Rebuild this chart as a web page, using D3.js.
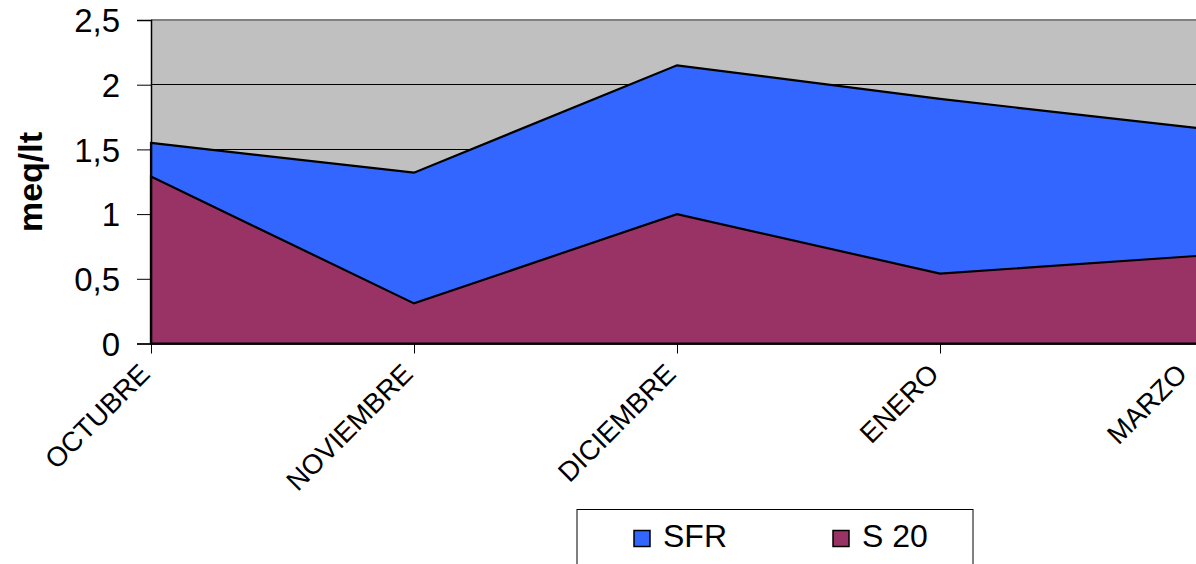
<!DOCTYPE html>
<html>
<head>
<meta charset="utf-8">
<script src="https://cdn.jsdelivr.net/npm/d3@7"></script>
<style>
  html, body { margin: 0; padding: 0; background: #ffffff; overflow: hidden; }
  svg { display: block; font-family: "Liberation Sans", Arial, sans-serif; }
</style>
</head>
<body>
<svg id="chart" width="1196" height="564"></svg>
<script>
// Monthly values (meq/lt)
const categories = ["OCTUBRE", "NOVIEMBRE", "DICIEMBRE", "ENERO", "MARZO"];
const sfrValues  = [1.55, 1.32, 2.15, 1.89, 1.66];
const s20Values  = [1.29, 0.31, 1.00, 0.54, 0.68];
const seriesNames = ["SFR", "S 20"];
const seriesColors = ["#3366FF", "#993366"];
const yTicks = [0, 0.5, 1, 1.5, 2, 2.5];
const yTickLabels = ["0", "0,5", "1", "1,5", "2", "2,5"];
const yTitle = "meq/lt";

const width = 1196;
const svg = d3.select("#chart");

// Plot frame
const plotLeft = 151, plotTop = 20, plotBottom = 343.5, plotRight = 1203;

const x = d3.scalePoint().domain(categories).range([plotLeft, plotRight]);
const y = d3.scaleLinear().domain([0, 2.5]).range([plotBottom, plotTop]);

// Plot background
svg.append("rect")
  .attr("x", plotLeft).attr("y", plotTop)
  .attr("width", plotRight - plotLeft).attr("height", plotBottom - plotTop)
  .attr("fill", "#C0C0C0");

// Horizontal gridlines
svg.append("g").selectAll("line")
  .data(yTicks.filter(t => t > 0 && t < 2.5))
  .join("line")
  .attr("x1", plotLeft).attr("x2", plotRight)
  .attr("y1", d => y(d)).attr("y2", d => y(d))
  .attr("stroke", "#000").attr("stroke-width", 1).attr("shape-rendering", "crispEdges");

// Top border of plot area
svg.append("line")
  .attr("x1", plotLeft).attr("x2", plotRight)
  .attr("y1", y(2.5)).attr("y2", y(2.5))
  .attr("stroke", "#808080").attr("stroke-width", 2);

// Areas: SFR behind, S 20 in front
const seriesData = [sfrValues, s20Values];
seriesData.forEach((vals, i) => {
  const pts = categories.map((c, j) => ({ c, v: vals[j] }));
  const area = d3.area()
    .x(d => x(d.c))
    .y0(y(0))
    .y1(d => y(d.v));
  svg.append("path")
    .datum(pts)
    .attr("d", area)
    .attr("fill", seriesColors[i])
    .attr("stroke", "#000")
    .attr("stroke-width", 2.2)
    .attr("stroke-linejoin", "miter");
});

// Y axis
const yAxis = d3.axisLeft(y)
  .tickValues(yTicks)
  .tickSize(14)
  .tickPadding(17)
  .tickFormat((d, i) => yTickLabels[i]);
const gy = svg.append("g").attr("transform", `translate(${plotLeft},0)`).call(yAxis);
gy.select(".domain").attr("stroke", "#000").attr("stroke-width", 1.5);
gy.selectAll(".tick line").attr("stroke", "#000").attr("stroke-width", 1);
gy.selectAll(".tick text")
  .attr("font-size", 33)
  .attr("font-family", "Liberation Sans, Arial, sans-serif")
  .attr("fill", "#000")
  .attr("dy", "0.36em");

// X axis with slanted month labels
const xAxis = d3.axisBottom(x).tickSize(10).tickSizeOuter(0);
const gx = svg.append("g").attr("transform", `translate(0,${plotBottom})`).call(xAxis);
gx.select(".domain").attr("stroke", "#000").attr("stroke-width", 1.5);
gx.selectAll(".tick line").attr("stroke", "#000").attr("stroke-width", 1);
gx.selectAll(".tick text")
  .attr("font-size", 27.5)
  .attr("font-family", "Liberation Sans, Arial, sans-serif")
  .attr("fill", "#000")
  .attr("text-anchor", "end")
  .attr("dy", null)
  .attr("y", 0)
  .attr("transform", "translate(0,32) rotate(-45)");

// Keep slanted labels inside the drawing width
gx.selectAll(".tick text").each(function () {
  const box = this.getBoundingClientRect();
  const overflow = box.right - (width - 3);
  if (overflow > 0) {
    d3.select(this).attr("transform", `translate(${-overflow},32) rotate(-45)`);
  }
});

// Y axis title
svg.append("text")
  .attr("transform", "translate(42,182) rotate(-90)")
  .attr("text-anchor", "middle")
  .attr("font-size", 34)
  .attr("font-weight", "bold")
  .attr("fill", "#000")
  .text(yTitle);

// Legend
const legend = svg.append("g");
legend.append("rect")
  .attr("x", 577).attr("y", 509.5)
  .attr("width", 396).attr("height", 80)
  .attr("fill", "#fff").attr("stroke", "#000").attr("stroke-width", 1);
const legendX = [634, 833];
seriesNames.forEach((name, i) => {
  legend.append("rect")
    .attr("x", legendX[i]).attr("y", 530.5)
    .attr("width", 16).attr("height", 16)
    .attr("fill", seriesColors[i])
    .attr("stroke", "#000").attr("stroke-width", 1.5);
  legend.append("text")
    .attr("x", legendX[i] + 29).attr("y", 546.5)
    .attr("font-size", 32)
    .attr("fill", "#000")
    .text(name);
});
</script>
</body>
</html>
